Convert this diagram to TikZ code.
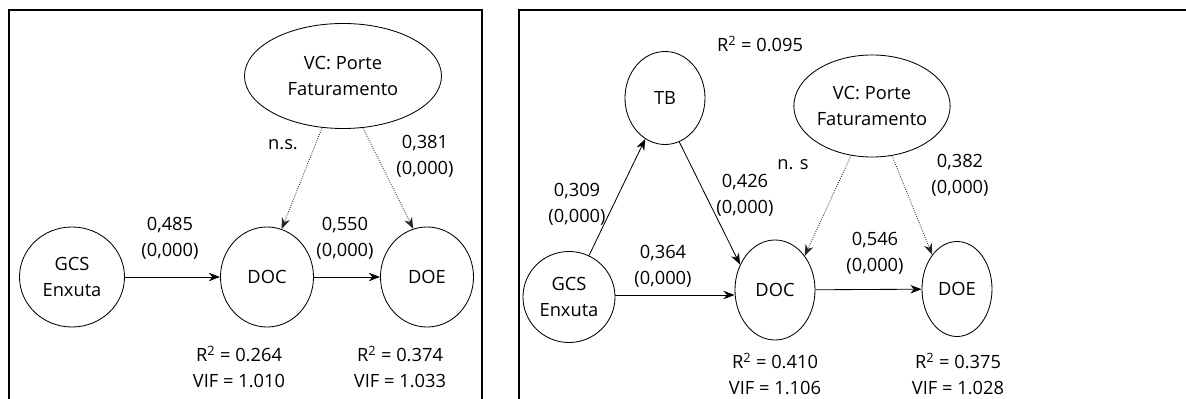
\documentclass[tikz,border=0pt]{standalone}
\usepackage{fontspec}
\setmainfont{Open Sans}
\usetikzlibrary{shapes.geometric,arrows.meta}
\newcommand{\modelfont}{\fontsize{13}{18.4}\selectfont}
\tikzset{
  construct/.style={ellipse, draw, semithick, inner sep=0pt, align=center, font=\modelfont},
  coef/.style={align=center, font=\modelfont, inner sep=0pt},
  effect/.style={-{Stealth[length=8pt,width=6pt]}, semithick},
  ctrleffect/.style={-{Stealth[length=8pt,width=6pt]}, densely dotted, semithick, black!85},
  panel/.style={draw, thick},
}

\begin{document}
\begin{tikzpicture}[x=0.025cm, y=-0.025cm]
  \useasboundingbox (0,0) rectangle (1186,399);
  \clip (0,0) rectangle (1186,399);
  \draw[panel] (9,10) rectangle (482,420);
  \draw[panel] (519,10) rectangle (1200,420);

  % Left model
  \node[construct, minimum width=2.625cm, minimum height=2.5cm] (gcsL) at (72,277) {GCS\\Enxuta};
  \node[construct, minimum width=2.325cm, minimum height=2.5cm] (docL) at (267,277) {DOC};
  \node[construct, minimum width=2.325cm, minimum height=2.5cm] (doeL) at (427,277) {DOE};
  \node[construct, minimum width=4.925cm, minimum height=2.625cm] (vcL) at (343,76) {VC: Porte\\Faturamento};

  \draw[effect] (gcsL) -- (docL);
  \draw[effect] (docL) -- (doeL);
  \draw[ctrleffect] (vcL.248) -- (docL.73);
  \draw[ctrleffect] (vcL.291) -- (doeL.106);

  \node[coef] (c485) at (170,238) {0,485\\(0,000)};
  \node[coef] (c550) at (345,238) {0,550\\(0,000)};
  \node[coef] (nsL) at (283,145) {n.s.};
  \node[coef] (c381) at (425,156) {0,381\\(0,000)};
  \node[coef] (fitDocL) at (239,367) {R\textsuperscript{2} = 0.264\\VIF = 1.010};
  \node[coef] (fitDoeL) at (400,367) {R\textsuperscript{2} = 0.374\\VIF = 1.033};

  % Right model
  \node[construct, minimum width=2.3cm, minimum height=2.275cm] (gcsR) at (569,297) {GCS\\Enxuta};
  \node[construct, minimum width=2.0cm, minimum height=2.325cm] (tb) at (665,98) {TB};
  \node[construct, minimum width=2.0cm, minimum height=2.5cm] (docR) at (775,290) {DOC};
  \node[construct, minimum width=1.75cm, minimum height=2.375cm] (doeR) at (957,289) {DOE};
  \node[construct, minimum width=3.5cm, minimum height=2.55cm] (vcR) at (872,106) {VC: Porte\\Faturamento};

  \draw[effect] (gcsR) -- (tb);
  \draw[effect] (tb.288) -- (docR.144);
  \draw[effect] ([yshift=0.05cm]gcsR.east) -- ([yshift=0.05cm]gcsR.east -| docR.west);
  \draw[effect] (docR) -- (doeR);
  \draw[ctrleffect] (vcR.247) -- (docR.49);
  \draw[ctrleffect] (vcR.292) -- (doeR.126);

  \node[coef] (fitTb) at (760,44) {R\textsuperscript{2} = 0.095};
  \node[coef] (c309) at (577,204) {0,309\\(0,000)};
  \node[coef] (c426) at (745,195) {0,426\\(0,000)};
  \node[coef] (nsR) at (793,165) {n. s};
  \node[coef] (c382) at (960,175) {0,382\\(0,000)};
  \node[coef] (c364) at (663,266) {0,364\\(0,000)};
  \node[coef] (c546) at (875,253) {0,546\\(0,000)};
  \node[coef] (fitDocR) at (775,374) {R\textsuperscript{2} = 0.410\\VIF = 1.106};
  \node[coef] (fitDoeR) at (958,374) {R\textsuperscript{2} = 0.375\\VIF = 1.028};
\end{tikzpicture}
\end{document}
